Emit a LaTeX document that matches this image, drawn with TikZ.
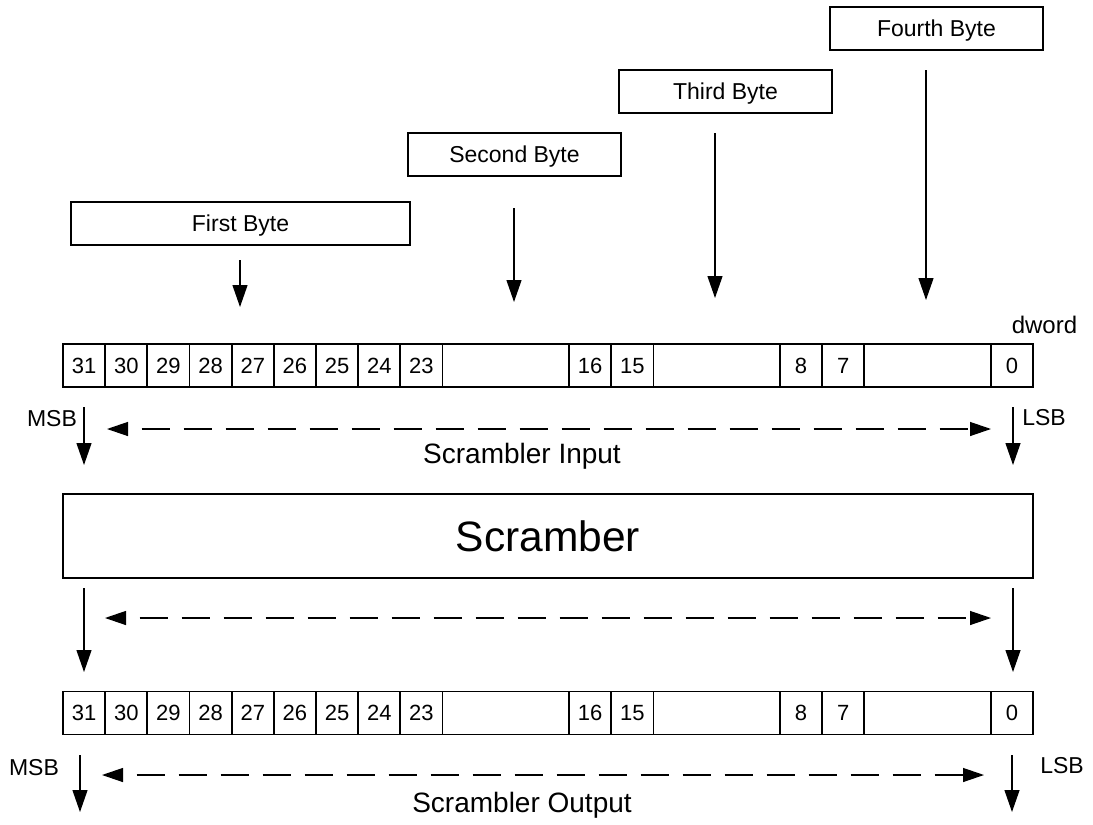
\documentclass[tikz,border=0pt]{standalone}
\usepackage{fontspec}
\setmainfont{Liberation Sans}
\usetikzlibrary{arrows.meta}
\begin{document}
\begin{tikzpicture}[x=1pt,y=-1pt,
  cell/.style={draw, line width=1.8pt, minimum height=43pt, inner sep=0pt,
    text height=15.8pt, text depth=0pt, font=\fontsize{22}{22}\selectfont},
  bytebox/.style={draw, line width=2.3pt, minimum height=43pt, inner sep=0pt,
    text height=16.5pt, text depth=0pt, font=\fontsize{23}{23}\selectfont},
  scrbox/.style={draw, line width=2.4pt, minimum width=970pt, minimum height=84pt,
    inner sep=0pt, text height=30.4pt, text depth=0pt, font=\fontsize{42.5}{42.5}\selectfont},
  lbl/.style={inner sep=0pt, anchor=base, font=\fontsize{23}{23}\selectfont},
  biglbl/.style={inner sep=0pt, anchor=base, font=\fontsize{28}{28}\selectfont},
  arr/.style={line width=1.2pt, -{Triangle[length=22pt,width=15pt]}},
  dsh/.style={line width=1.3pt, dash pattern=on 28pt off 14pt, dash phase=28pt,
    {Triangle[length=21pt,width=14pt]}-{Triangle[length=21pt,width=14pt]}}
]
\useasboundingbox (0,0) rectangle (1093,825);

% byte sources
\node[bytebox, minimum width=339pt] (b1) at (240.5,223.5) {First Byte};
\node[bytebox, minimum width=213pt] (b2) at (514.5,154.5) {Second Byte};
\node[bytebox, minimum width=213pt] (b3) at (725.5,91.5) {Third Byte};
\node[bytebox, minimum width=213pt] (b4) at (936.5,28.5) {Fourth Byte};

\coordinate (f1a) at (240,260); \coordinate (f1b) at (240,307);
\coordinate (f2a) at (514,208); \coordinate (f2b) at (514,302);
\coordinate (f3a) at (715,133); \coordinate (f3b) at (715,298);
\coordinate (f4a) at (926,70);  \coordinate (f4b) at (926,300);
\draw[arr] (f1a) -- (f1b);
\draw[arr] (f2a) -- (f2b);
\draw[arr] (f3a) -- (f3b);
\draw[arr] (f4a) -- (f4b);

% dword registers (input and output), 23 unit columns of 42.17pt
\foreach \lab/\i/\s [count=\k] in {31/0/1,30/1/1,29/2/1,28/3/1,27/4/1,26/5/1,25/6/1,24/7/1,23/8/1,
    {}/9/3,16/12/1,15/13/1,{}/14/3,8/17/1,7/18/1,{}/19/3,0/22/1}{
  \pgfmathsetmacro\cx{63+(\i+\s/2)*42.1739}
  \pgfmathsetmacro\cw{\s*42.1739}
  \node[cell, minimum width=\cw pt] (in\k) at (\cx,365.5) {\lab};
  \node[cell, minimum width=\cw pt] (out\k) at (\cx,713) {\lab};
}
\node[lbl, font=\fontsize{24}{24}\selectfont] (dw) at (1044.5,333) {dword};

% input side
\node[lbl] (msb1) at (52,426) {MSB};
\node[lbl] (lsb1) at (1044,425) {LSB};
\coordinate (m1a) at (84,407);   \coordinate (m1b) at (84,465);
\coordinate (l1a) at (1013,407); \coordinate (l1b) at (1013,465);
\coordinate (d1a) at (107,429);  \coordinate (d1b) at (991,429);
\draw[arr] (m1a) -- (m1b);
\draw[arr] (l1a) -- (l1b);
\draw[dsh] (d1a) -- (d1b);
\node[biglbl] (sin) at (522,463) {Scrambler Input};

% scrambler
\node[scrbox] (scr) at (548,536) {Scramber};

\coordinate (m2a) at (84,588);   \coordinate (m2b) at (84,672);
\coordinate (l2a) at (1013,588); \coordinate (l2b) at (1013,672);
\coordinate (d2a) at (105,618);  \coordinate (d2b) at (991,618);
\draw[arr] (m2a) -- (m2b);
\draw[arr] (l2a) -- (l2b);
\draw[dsh] (d2a) -- (d2b);

% output side
\node[lbl] (msb2) at (34,775) {MSB};
\node[lbl] (lsb2) at (1062,773) {LSB};
\coordinate (m3a) at (80,755);   \coordinate (m3b) at (80,812);
\coordinate (l3a) at (1012,755); \coordinate (l3b) at (1012,812);
\coordinate (d3a) at (102,775);  \coordinate (d3b) at (984,775);
\draw[arr] (m3a) -- (m3b);
\draw[arr] (l3a) -- (l3b);
\draw[dsh] (d3a) -- (d3b);
\node[biglbl] (sout) at (522,812) {Scrambler Output};
\end{tikzpicture}
\end{document}
